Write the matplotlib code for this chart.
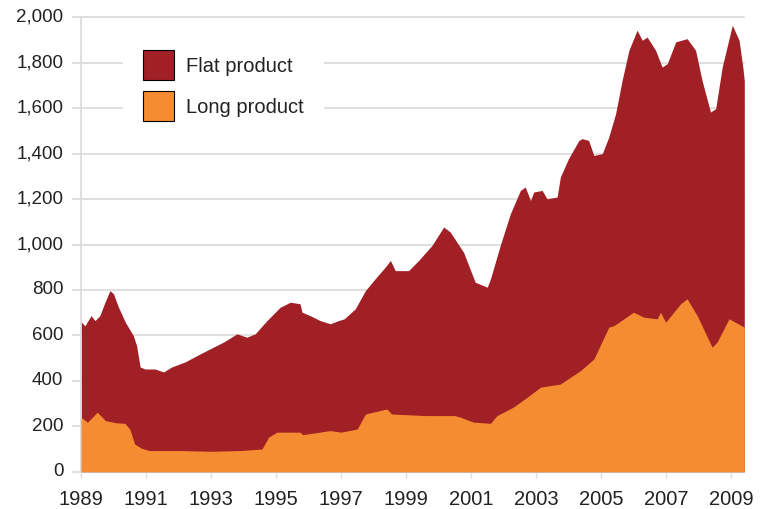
import matplotlib
matplotlib.use('Agg')
import matplotlib.pyplot as plt
from matplotlib.patches import Patch
from matplotlib.ticker import FuncFormatter
import matplotlib.transforms as mtransforms

plt.rcParams['font.family'] = ['Liberation Sans', 'DejaVu Sans']

# Top of the stack (flat + long)
total_years = [1989.0, 1989.12, 1989.31, 1989.43, 1989.58, 1989.74, 1989.89, 1990.0,
               1990.15, 1990.36, 1990.61, 1990.71, 1990.82, 1990.97, 1991.28, 1991.54,
               1991.79, 1992.2, 1992.66, 1993.07, 1993.38, 1993.8, 1994.1, 1994.36,
               1994.72, 1995.13, 1995.44, 1995.74, 1995.8, 1996.05, 1996.36, 1996.67,
               1996.92, 1997.1, 1997.44, 1997.75, 1998.05, 1998.36, 1998.52, 1998.67,
               1999.08, 1999.39, 1999.8, 2000.16, 2000.36, 2000.77, 2001.13, 2001.5,
               2001.6, 2001.9, 2002.21, 2002.52, 2002.67, 2002.83, 2002.93, 2003.19,
               2003.34, 2003.65, 2003.75, 2004.0, 2004.32, 2004.42, 2004.62, 2004.78,
               2005.04, 2005.24, 2005.45, 2005.65, 2005.86, 2006.11, 2006.27, 2006.42,
               2006.68, 2006.88, 2007.04, 2007.3, 2007.65, 2007.91, 2008.11, 2008.37,
               2008.53, 2008.73, 2009.04, 2009.25, 2009.37, 2009.41]
total_values = [661, 642, 687, 665, 687, 747, 797, 783,
                725, 659, 599, 555, 461, 452, 452, 439,
                461, 483, 518, 548, 570, 607, 592, 607,
                665, 724, 746, 739, 702, 687, 665, 651,
                665, 673, 717, 797, 849, 900, 930, 885,
                885, 930, 996, 1077, 1055, 966, 834, 812,
                849, 996, 1135, 1238, 1253, 1194, 1231, 1238,
                1201, 1209, 1297, 1378, 1458, 1466, 1458, 1392,
                1400, 1473, 1576, 1722, 1855, 1943, 1899, 1913,
                1855, 1781, 1796, 1892, 1906, 1855, 1722, 1583,
                1598, 1781, 1965, 1899, 1774, 1720]

# Long product (bottom layer)
long_years = [1989.0, 1989.2, 1989.5, 1989.75, 1990.1, 1990.35, 1990.5, 1990.65,
              1990.85, 1991.1, 1992.0, 1993.0, 1993.9, 1994.57, 1994.77, 1995.03,
              1995.74, 1995.82, 1996.67, 1997.0, 1997.5, 1997.75, 1998.41, 1998.56,
              1999.6, 2000.5, 2000.67, 2001.08, 2001.6, 2001.8, 2002.3, 2002.73,
              2003.14, 2003.75, 2004.37, 2004.78, 2005.24, 2005.4, 2006.0, 2006.32,
              2006.73, 2006.83, 2006.99, 2007.45, 2007.65, 2007.96, 2008.42, 2008.57,
              2008.94, 2009.41]
long_values = [240, 218, 262, 225, 215, 213, 188, 122,
               104, 93, 93, 90, 93, 100, 152, 174,
               174, 163, 181, 174, 188, 254, 276, 254,
               247, 247, 240, 218, 213, 247, 284, 328,
               372, 386, 445, 496, 636, 643, 702, 680,
               673, 702, 658, 739, 761, 687, 548, 570,
               673, 636]

x_ticks = list(range(1989, 2010, 2))
y_ticks = list(range(0, 2001, 200))

flat_color = '#A02026'
long_color = '#F58C32'
grid_color = '#dcdcdc'
text_color = '#222222'

fig = plt.figure(figsize=(7.64, 5.10), dpi=100)
ax = fig.add_axes([81 / 764, 37.3 / 510, 663.3 / 764, 454.4 / 510])

ax.fill_between(total_years, 0, total_values, color=flat_color, linewidth=0, zorder=2)
ax.fill_between(long_years, 0, long_values, color=long_color, linewidth=0, zorder=3)

ax.set_xlim(1989, 2009.41)
ax.set_ylim(0, 2000)
ax.set_xticks(x_ticks)
ax.set_yticks(y_ticks)
ax.yaxis.set_major_formatter(FuncFormatter(lambda v, p: f'{int(v):,}'))

ax.grid(axis='y', color=grid_color, linewidth=1.3, zorder=0)
ax.set_axisbelow(True)
for g in ax.get_ygridlines():
    g.set_clip_on(False)

for side in ['top', 'right', 'bottom']:
    ax.spines[side].set_visible(False)
ax.spines['left'].set_color(grid_color)
ax.spines['left'].set_linewidth(1.3)

ax.tick_params(axis='y', length=6.7, width=1.3, color=grid_color, pad=6,
               labelsize=13.5, labelcolor=text_color)
ax.tick_params(axis='x', length=4.5, width=1.0, color=grid_color, pad=8,
               labelsize=14.5, labelcolor=text_color)

# nudge y labels up a little, like the original
offset = mtransforms.ScaledTranslation(0, 3 / 100, fig.dpi_scale_trans)
for lab in ax.get_yticklabels():
    lab.set_transform(lab.get_transform() + offset)

handles = [Patch(facecolor=flat_color, edgecolor='black', linewidth=0.8, label='Flat product'),
           Patch(facecolor=long_color, edgecolor='black', linewidth=0.8, label='Long product')]
leg = ax.legend(handles=handles, loc='upper left',
                bbox_to_anchor=(123 / 764, 1 - 31 / 510), bbox_transform=fig.transFigure,
                frameon=True, fancybox=False, facecolor='white', edgecolor='none',
                framealpha=1, fontsize=14.5, handlelength=1.54, handleheight=1.9,
                handletextpad=0.6, labelspacing=0.55, borderpad=1.0, borderaxespad=0)
for t in leg.get_texts():
    t.set_color(text_color)

plt.savefig('out.png', dpi=100)
